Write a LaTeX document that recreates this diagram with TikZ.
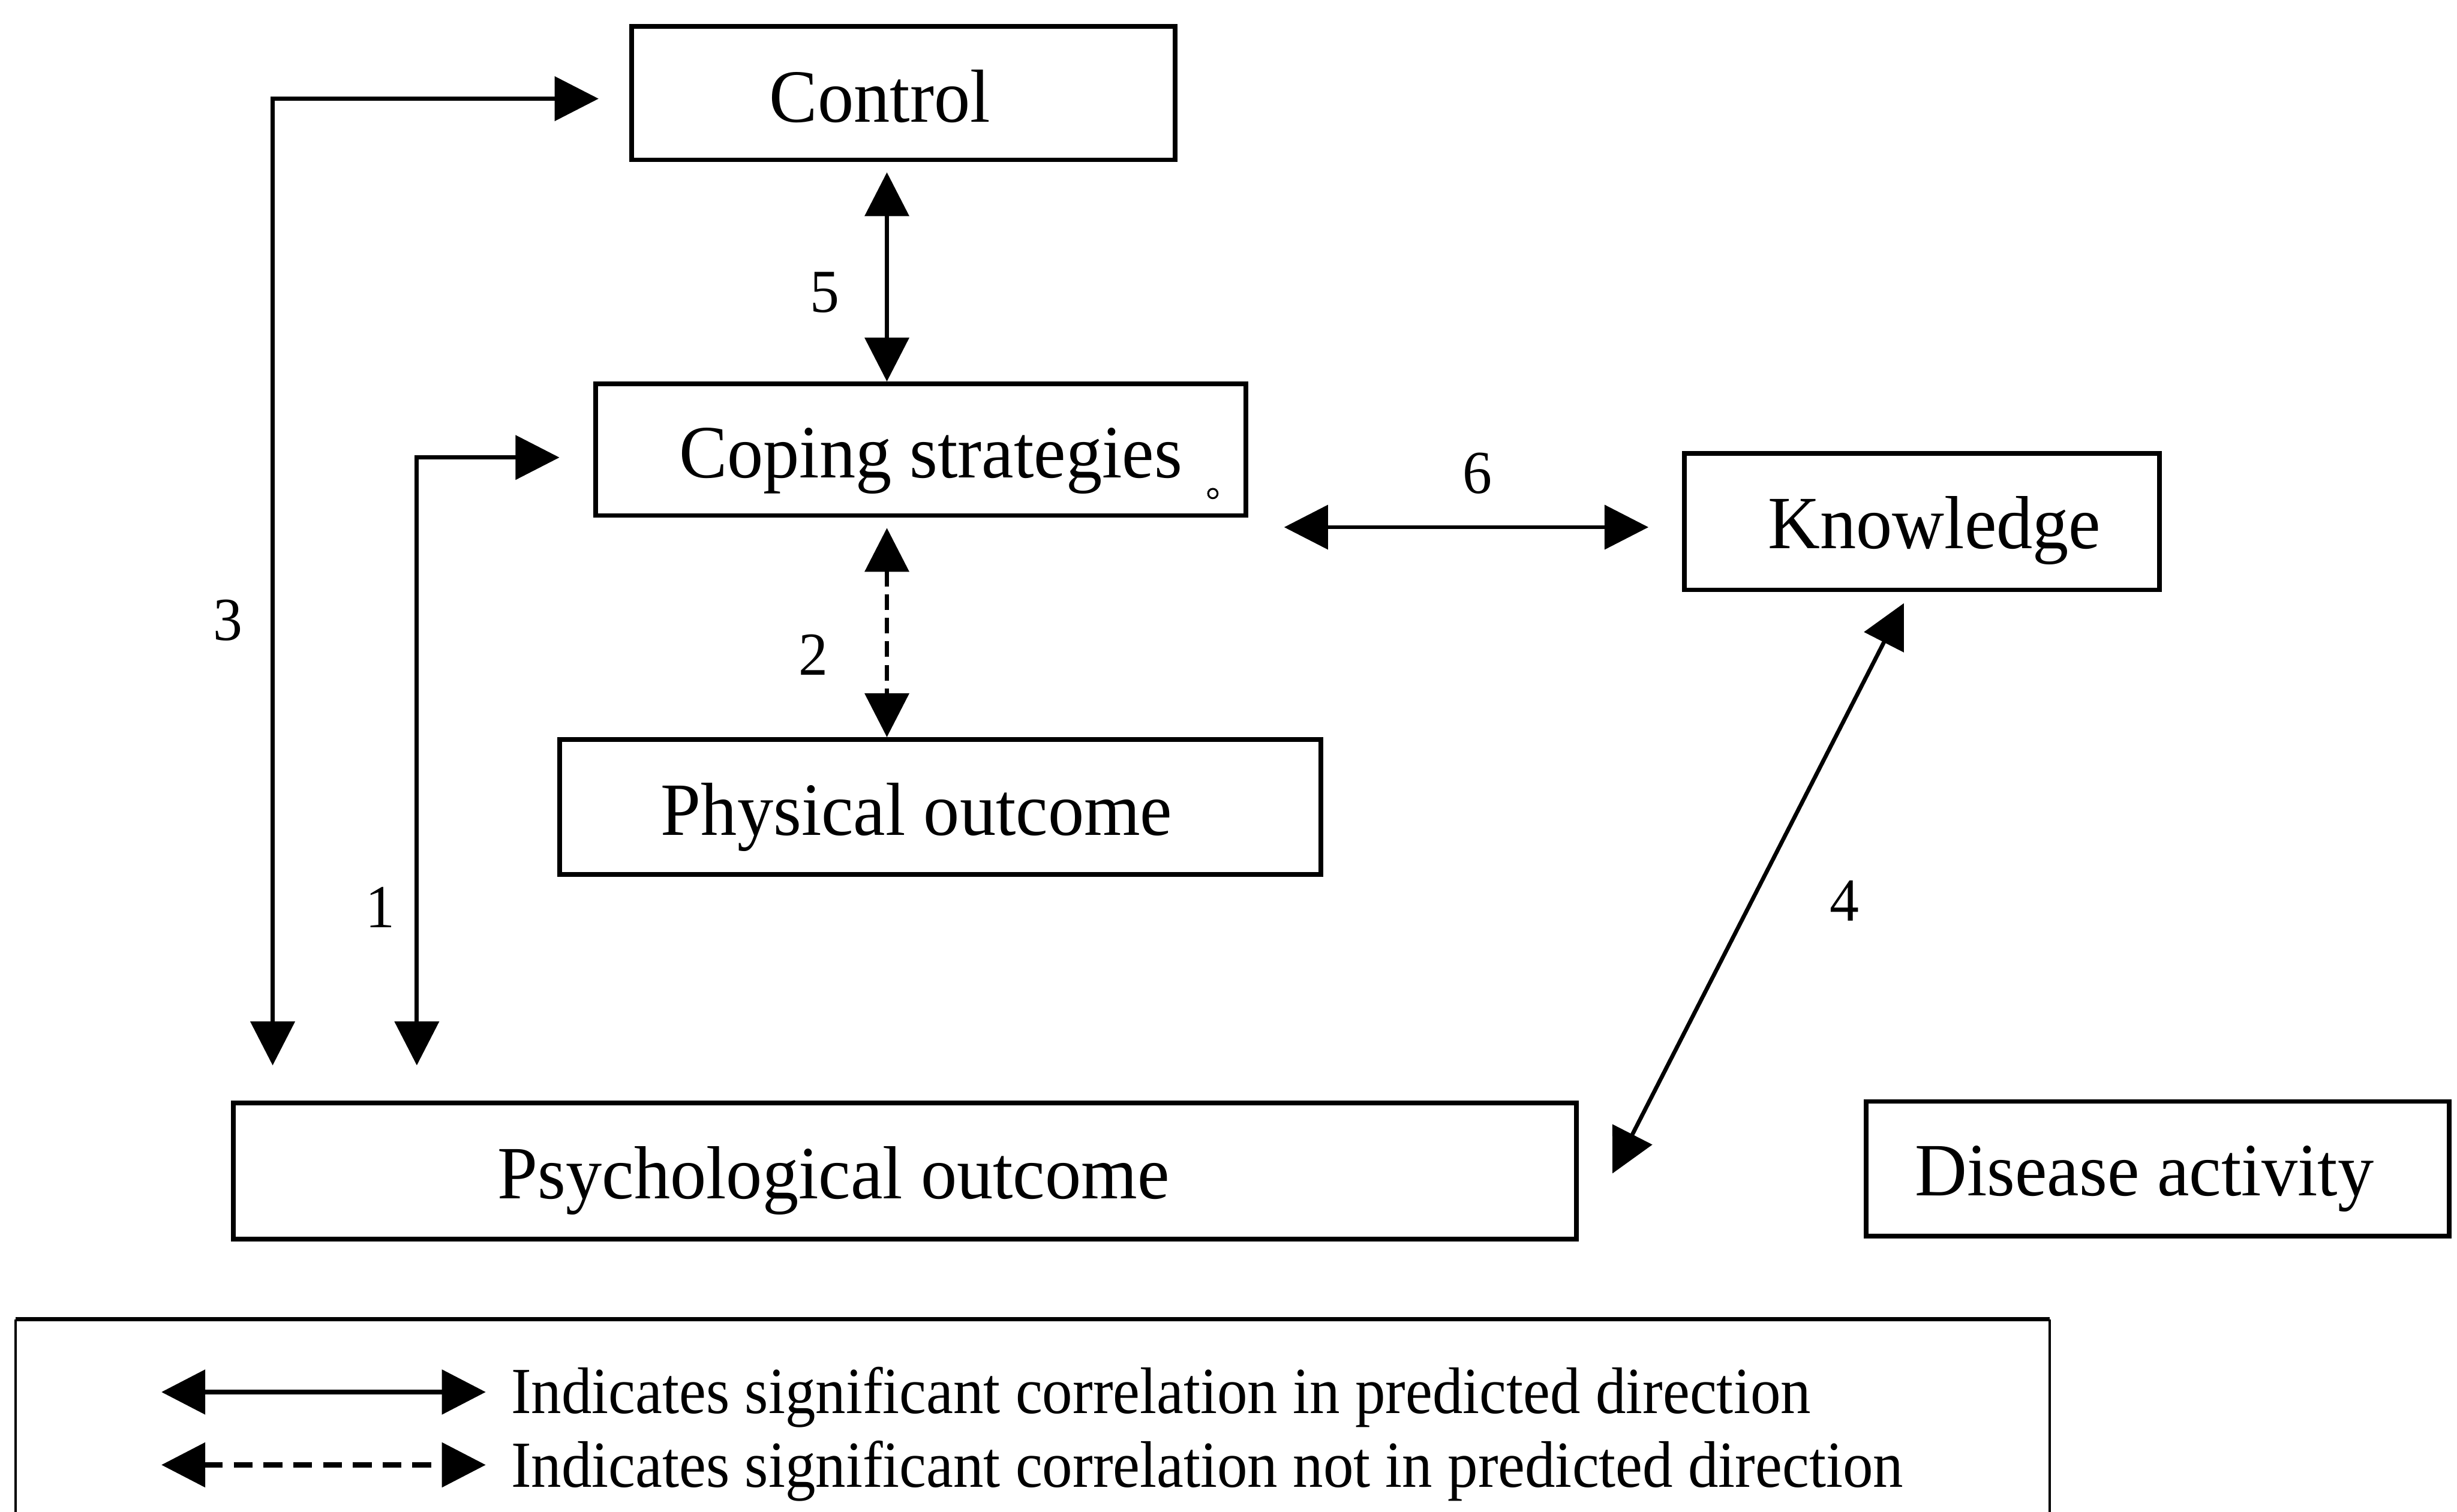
\documentclass[tikz,border=0pt]{standalone}
\usepackage{fontspec}
\setmainfont{Liberation Serif}[FakeStretch=0.96]
\newfontfamily\legfont{Liberation Serif}[FakeStretch=0.92]
\usetikzlibrary{arrows.meta}
\begin{document}
\begin{tikzpicture}[x=1pt,y=-1pt,
  box/.style={draw, line width=3pt, inner sep=0pt},
  boxtext/.style={anchor=base, inner sep=0pt, font=\fontsize{48}{56}\selectfont},
  num/.style={inner sep=0pt, font=\fontsize{39}{46}\selectfont},
  tipA/.style={},
  conn/.style={line width=2.6pt, {Triangle[length=28pt,width=28pt]}-{Triangle[length=28pt,width=28pt]}},
  dconn/.style={conn, dash pattern=on 10pt off 5pt},
  legtext/.style={anchor=base west, inner sep=0pt, font=\legfont\fontsize{42}{50}\selectfont}]
\useasboundingbox (0,0) rectangle (1568,965);
% boxes
\node[box, minimum width=347pt, minimum height=85pt] (control) at (576.5,59.5) {};
\node[box, minimum width=415pt, minimum height=84pt] (coping) at (587.5,287) {};
\node[box, minimum width=486pt, minimum height=86pt] (physical) at (600,515) {};
\node[box, minimum width=303pt, minimum height=87pt] (knowledge) at (1226.5,333) {};
\node[box, minimum width=857pt, minimum height=87pt] (psych) at (577.5,747.5) {};
\node[box, minimum width=372pt, minimum height=86pt] (disease) at (1377,746) {};
% box texts
\node[boxtext] (controlT) at (561.5,78) {Control};
\node[boxtext] (copingT) at (594,305) {Coping strategies};
\node[boxtext] (physicalT) at (585,533) {Physical outcome};
\node[boxtext] (knowledgeT) at (1234.5,350) {Knowledge};
\node[boxtext] (psychT) at (532,765) {Psychological outcome};
\node[boxtext] (diseaseT) at (1368.5,763) {Disease activity};
\node[draw, circle, line width=1.2pt, minimum size=6pt, inner sep=0pt] (mark) at (774,315) {};
% arrow end points
\coordinate (e3a) at (174,680);
\coordinate (e3b) at (382,63);
\coordinate (e1a) at (266,680);
\coordinate (e1b) at (357,292);
\coordinate (e5a) at (566,110);
\coordinate (e2a) at (566,337);
\coordinate (e6a) at (819.5,336.5);
\coordinate (e6b) at (1052,336.5);
\coordinate (e4a) at (1215,385);
\coordinate (e4b) at (1029,749);
% connectors
\draw[conn] (e3a) |- (e3b);
\draw[conn] (e1a) |- (e1b);
\draw[conn] (e5a) -- (coping.north -| e5a);
\draw[dconn] (e2a) -- (physical.north -| e2a);
\draw[conn] (e6a) -- (e6b);
\draw[conn] (e4a) -- (e4b);
% labels
\node[num] (n5) at (526.5,186.5) {5};
\node[num] (n3) at (145.5,396) {3};
\node[num] (n2) at (519,418) {2};
\node[num] (n1) at (242.5,579) {1};
\node[num] (n6) at (943,302) {6};
\node[num] (n4) at (1177,575) {4};
% legend
\draw[line width=3pt] (10,842) -- (1308,842);
\draw[line width=1.5pt] (10,842) -- (10,970);
\draw[line width=1.5pt] (1308,842) -- (1308,970);
\coordinate (l1a) at (103,888.5);
\coordinate (l1b) at (310,888.5);
\coordinate (l2a) at (103,935);
\coordinate (l2b) at (310,935);
\draw[conn, line width=3.4pt] (l1a) -- (l1b);
\draw[conn, line width=3.4pt, dash pattern=on 12pt off 7pt] (l2a) -- (l2b);
\node[legtext] (leg1) at (326,902) {Indicates significant correlation in predicted direction};
\node[legtext] (leg2) at (326,949) {Indicates significant correlation not in predicted direction};
\end{tikzpicture}
\end{document}
